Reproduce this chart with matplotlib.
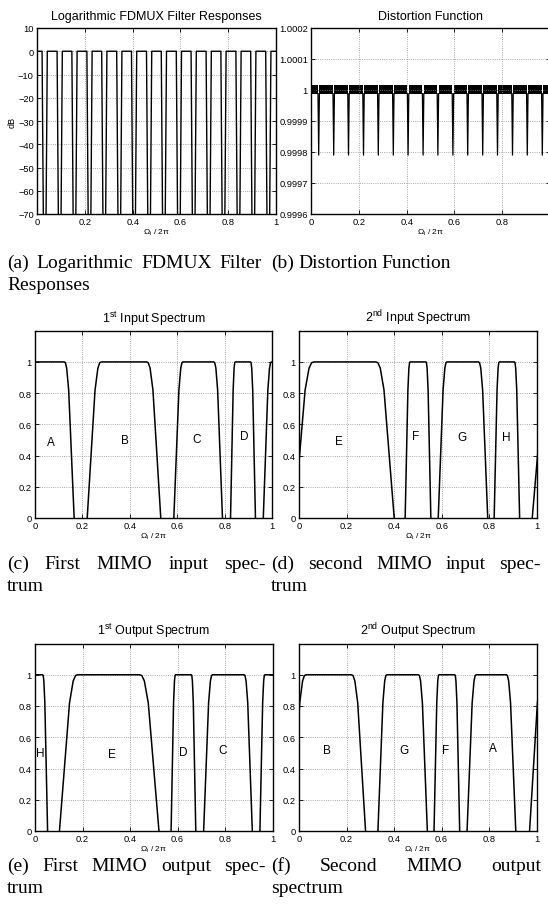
import matplotlib
matplotlib.use("Agg")
import matplotlib.pyplot as plt

plt.rcParams["font.family"] = ["Liberation Sans", "DejaVu Sans"]
plt.rcParams["mathtext.fontset"] = "custom"
plt.rcParams["mathtext.rm"] = "Liberation Sans"
plt.rcParams["mathtext.it"] = "Liberation Sans:italic"

W, H = 548, 912

# ---------------- data ----------------
freq_ticks = [0, 0.2, 0.4, 0.6, 0.8, 1]
freq_labels = ["0", "0.2", "0.4", "0.6", "0.8", "1"]

# (a) crossing points of neighbouring FDMUX filters, incl. the ones just outside
fdmux_dips = [-0.031, 0.031, 0.094, 0.156, 0.219, 0.281, 0.344, 0.406, 0.469,
              0.531, 0.594, 0.656, 0.719, 0.781, 0.844, 0.906, 0.969, 1.031]
fdmux_pass_gap = 0.011    # passband edge (0 dB) distance from crossing
fdmux_stop_gap = 0.005    # distance at -80 dB
fdmux_floor = -80
db_ticks = [-70, -60, -50, -40, -30, -20, -10, 0, 10]

# (b) distortion function
dist_dips = fdmux_dips[1:-1]
dist_ripple_lo = 0.999988
dist_ripple_hi = 1.000015
dist_dip_min = 0.99979
dist_dip_half = 0.003
dist_ticks = [0.9996, 0.9997, 0.9998, 0.9999, 1.0, 1.0001, 1.0002]
dist_labels = ["0.9996", "0.9997", "0.9998", "0.9999", "1", "1.0001", "1.0002"]

# spectra: (foot_left, top_left, top_right, foot_right)
in1_bands = [(-0.040, -0.003, 0.123, 0.165), (0.220, 0.280, 0.470, 0.530),
             (0.585, 0.624, 0.753, 0.790), (0.824, 0.844, 0.908, 0.929),
             (0.962, 0.997, 1.123, 1.165)]
in2_bands = [(-0.020, 0.063, 0.322, 0.400), (0.446, 0.467, 0.533, 0.554),
             (0.585, 0.622, 0.754, 0.793), (0.820, 0.842, 0.905, 0.927),
             (0.980, 1.063, 1.322, 1.400)]
out1_bands = [(-0.053, -0.032, 0.032, 0.053), (0.103, 0.180, 0.440, 0.522),
              (0.573, 0.592, 0.658, 0.677), (0.710, 0.748, 0.880, 0.915),
              (0.947, 0.968, 1.032, 1.053)]
out2_bands = [(-0.030, 0.030, 0.220, 0.280), (0.332, 0.370, 0.502, 0.540),
              (0.568, 0.589, 0.655, 0.676), (0.707, 0.746, 0.872, 0.912),
              (0.970, 1.030, 1.220, 1.280)]
# shape of a band edge: (fraction from foot to top, level)
edge_shape = [(0.0, 0.0), (0.55, 0.82), (0.75, 0.96), (0.88, 0.995), (1.0, 1.0)]

in1_letters = ["A", "B", "C", "D"]
in1_lx = [0.066, 0.379, 0.683, 0.881]
in1_ly = [0.49, 0.50, 0.505, 0.527]
in2_letters = ["E", "F", "G", "H"]
in2_lx = [0.168, 0.488, 0.684, 0.872]
in2_ly = [0.495, 0.527, 0.52, 0.52]
out1_letters = ["H", "E", "D", "C"]
out1_lx = [0.021, 0.323, 0.624, 0.790]
out1_ly = [0.50, 0.493, 0.504, 0.519]
out2_letters = ["B", "G", "F", "A"]
out2_lx = [0.116, 0.440, 0.615, 0.815]
out2_ly = [0.519, 0.519, 0.519, 0.53]
spec_ticks = [0, 0.2, 0.4, 0.6, 0.8, 1]
spec_labels = ["0", "0.2", "0.4", "0.6", "0.8", "1"]

# ---------------- figure ----------------
fig = plt.figure(figsize=(W / 100, H / 100), dpi=100)


def add_axes(x0, x1, y0, y1):
    return fig.add_axes([x0 / W, 1 - y1 / H, (x1 - x0) / W, (y1 - y0) / H])


def style(ax, title):
    ax.tick_params(direction="in", length=3, width=0.6, top=True, right=True,
                   labelsize=6.7, pad=2.5)
    ax.grid(True, linestyle=":", color="0.55", linewidth=0.6)
    for s in ax.spines.values():
        s.set_linewidth(1.0)
    ax.set_title(title, fontsize=9, pad=6.5)
    ax.set_xlabel("Ω$_{\\rm i}$ / 2π", fontsize=6, labelpad=0)
    ax.set_xlim(0, 1)
    ax.set_xticks(freq_ticks)
    ax.set_xticklabels(freq_labels)


# (a)
ax = add_axes(37.3, 275.7, 29, 215)
for dl, dr in zip(fdmux_dips[:-1], fdmux_dips[1:]):
    ax.plot([dl + fdmux_stop_gap, dl + fdmux_pass_gap, dr - fdmux_pass_gap, dr - fdmux_stop_gap],
            [fdmux_floor, 0, 0, fdmux_floor], color="k", lw=1.0)
ax.set_ylim(-70, 10)
ax.set_yticks(db_ticks)
style(ax, "Logarithmic FDMUX Filter Responses")
ax.set_ylabel("dB", fontsize=6.5, labelpad=1)

# (b)
ax = add_axes(311.3, 549.7, 29, 215)
edges = [0] + dist_dips + [1]
for a, b in zip(edges[:-1], edges[1:]):
    lo = a + dist_dip_half if a > 0 else a
    hi = b - dist_dip_half if b < 1 else b
    ax.fill_between([lo, hi], dist_ripple_lo, dist_ripple_hi, color="k", lw=0)
for d in dist_dips:
    ax.plot([d - dist_dip_half, d, d + dist_dip_half],
            [dist_ripple_lo, dist_dip_min, dist_ripple_lo], color="k", lw=0.9)
ax.set_ylim(0.9996, 1.0002)
ax.set_yticks(dist_ticks)
ax.set_yticklabels(dist_labels)
style(ax, "Distortion Function")


def spectrum(ax, bands, letters, lx, ly, title):
    for fl, tl, tr, fr in bands:
        xs = [fl + f * (tl - fl) for f, _ in edge_shape]
        ys = [v for _, v in edge_shape]
        xs += [fr - f * (fr - tr) for f, _ in reversed(edge_shape)]
        ys += [v for _, v in reversed(edge_shape)]
        ax.plot(xs, ys, color="k", lw=1.1)
    for t, x, y in zip(letters, lx, ly):
        ax.text(x, y, t, fontsize=8.5, ha="center", va="center")
    ax.set_ylim(0, 1.2)
    ax.set_yticks(spec_ticks)
    ax.set_yticklabels(spec_labels)
    style(ax, title)


spectrum(add_axes(35, 272.3, 331.7, 519), in1_bands, in1_letters, in1_lx, in1_ly,
         "1$^{\\rm st}$ Input Spectrum")
spectrum(add_axes(299, 537, 331.7, 519), in2_bands, in2_letters, in2_lx, in2_ly,
         "2$^{\\rm nd}$ Input Spectrum")
spectrum(add_axes(35, 272.5, 644.5, 832), out1_bands, out1_letters, out1_lx, out1_ly,
         "1$^{\\rm st}$ Output Spectrum")
spectrum(add_axes(299, 536.7, 644.5, 832), out2_bands, out2_letters, out2_lx, out2_ly,
         "2$^{\\rm nd}$ Output Spectrum")

# ---------------- sub-captions (justified like the LaTeX source) ----------------
cap_kw = dict(fontsize=14, family="Liberation Serif", va="baseline", ha="left")
renderer = fig.canvas.get_renderer()


def caption(words, x0, y, x1=None):
    texts = [fig.text(x0 / W, 1 - y / H, w, **cap_kw) for w in words]
    widths = [t.get_window_extent(renderer).width for t in texts]
    if x1 is None or len(words) == 1:
        gap = 4.2
    else:
        gap = (x1 - x0 - sum(widths)) / (len(words) - 1)
    x = x0
    for t, w in zip(texts, widths):
        t.set_x(x / W)
        x += w + gap


caption(["(a)", "Logarithmic", "FDMUX", "Filter"], 7, 268, 262)
caption(["Responses"], 7, 290)
caption(["(b)", "Distortion", "Function"], 271, 268)
caption(["(c)", "First", "MIMO", "input", "spec-"], 7, 569, 266)
caption(["trum"], 7, 591)
caption(["(d)", "second", "MIMO", "input", "spec-"], 271, 569, 541)
caption(["trum"], 271, 591)
caption(["(e)", "First", "MIMO", "output", "spec-"], 7, 871, 266)
caption(["trum"], 7, 893)
caption(["(f)", "Second", "MIMO", "output"], 271, 871, 541)
caption(["spectrum"], 271, 893)

fig.savefig("out.png", dpi=100)
